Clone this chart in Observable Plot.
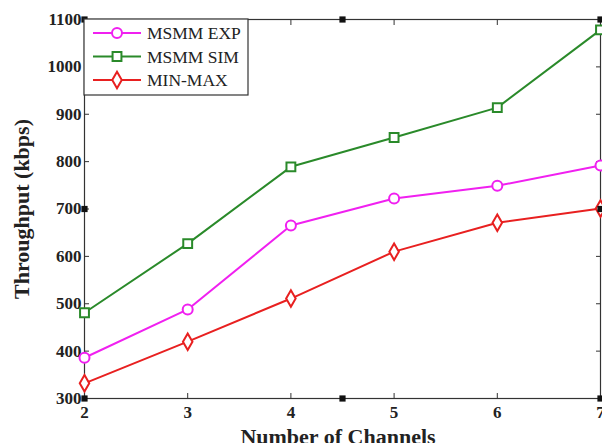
<!DOCTYPE html>
<html><head><meta charset="utf-8">
<script src="https://cdn.jsdelivr.net/npm/d3@7"></script>
<script src="https://cdn.jsdelivr.net/npm/@observablehq/plot@0.6"></script>
<style>body{margin:0;background:#fff}#c{position:relative;width:602px;height:443px}</style>
</head><body><div id="c"></div>
<script>
const channels = [2, 3, 4, 5, 6, 7];
const msmmExp = [386, 488, 665, 722, 749, 792];
const msmmSim = [481, 627, 789, 851, 914, 1078];
const minMax = [332, 420, 511, 610, 671, 701];
const seriesNames = ["MSMM EXP", "MSMM SIM", "MIN-MAX"];
const seriesColors = ["#f020f0", "#2a8a2a", "#e82020"];
const seriesSymbols = ["circle", "square", "diamond"];
const yTicks = [300, 400, 500, 600, 700, 800, 900, 1000, 1100];
const xTicks = [2, 3, 4, 5, 6, 7];
const handleX = [2, 4.5, 7];
const handleY = [300, 700, 1100];

const allSeries = [msmmExp, msmmSim, minMax];
const data = allSeries.flatMap((vals, i) => vals.map((v, j) => ({x: channels[j], y: v, s: seriesNames[i]})));
const handles = [];
for (const hx of handleX) for (const hy of handleY) {
  if (hx === 4.5 && hy === 700) continue;
  handles.push({x: hx, y: hy});
}

const font = "'Liberation Serif', 'Times New Roman', serif";
const plot = Plot.plot({
  width: 602, height: 443,
  marginLeft: 84, marginTop: 19, marginRight: 2, marginBottom: 45,
  style: {fontFamily: font, fontSize: "17px", fontWeight: "bold", color: "#222", background: "#fff"},
  x: {domain: [2, 7]},
  y: {domain: [300, 1100]},
  color: {domain: seriesNames, range: seriesColors},
  symbol: {domain: seriesNames, range: seriesSymbols},
  marks: [
    Plot.frame({stroke: "#333", strokeWidth: 1.2}),
    Plot.axisY(yTicks, {anchor: "left", tickSize: 0, tickPadding: 3, label: null, fontSize: 17, tickFormat: d3.format("d")}),
    Plot.axisY(yTicks, {anchor: "left", tickSize: -5, text: null, label: null, stroke: "#333"}),
    Plot.axisY(yTicks, {anchor: "right", tickSize: -5, text: null, label: null, stroke: "#333"}),
    Plot.axisX(xTicks, {anchor: "bottom", tickSize: 0, tickPadding: 7, label: null, fontSize: 17}),
    Plot.axisX(xTicks, {anchor: "bottom", tickSize: -5, text: null, label: null, stroke: "#333"}),
    Plot.axisX(xTicks, {anchor: "top", tickSize: -5, text: null, label: null, stroke: "#333"}),
    Plot.line(data, {x: "x", y: "y", z: "s", stroke: "s", strokeWidth: 2}),
    Plot.dot(data, {x: "x", y: "y", stroke: "s", symbol: "s", fill: "white", r: 5, strokeWidth: 2}),
    Plot.dot(handles, {x: "x", y: "y", symbol: "square", fill: "#111", r: 3.5})
  ]
});
const svg = d3.select(plot);
// axis titles
svg.append("text").attr("x", 338).attr("y", 444).attr("text-anchor", "middle")
  .attr("font-family", font).attr("font-weight", "bold").attr("font-size", 22).attr("fill", "#222")
  .text("Number of Channels");
svg.append("text").attr("transform", "translate(29,209) rotate(-90)").attr("text-anchor", "middle")
  .attr("font-family", font).attr("font-weight", "bold").attr("font-size", 22).attr("fill", "#222")
  .text("Throughput (kbps)");
// legend
const lg = svg.append("g").attr("text-anchor", "start").attr("font-weight", "normal");
lg.append("rect").attr("x", 84).attr("y", 19).attr("width", 164).attr("height", 76)
  .attr("fill", "white").attr("stroke", "#333").attr("stroke-width", 1.2);
const sym = {circle: d3.symbolCircle, square: d3.symbolSquare, diamond: d3.symbolDiamond};
seriesNames.forEach((n, i) => {
  const yy = 33 + i * 23.5;
  lg.append("line").attr("x1", 93).attr("x2", 141).attr("y1", yy).attr("y2", yy)
    .attr("stroke", seriesColors[i]).attr("stroke-width", 2);
  lg.append("path").attr("d", d3.symbol(sym[seriesSymbols[i]], Math.PI * 25)())
    .attr("transform", `translate(117,${yy})`).attr("fill", "white")
    .attr("stroke", seriesColors[i]).attr("stroke-width", 2);
  lg.append("text").attr("x", 147).attr("y", yy + 6).attr("font-family", font)
    .attr("font-size", 17.5).attr("fill", "#222").attr("text-anchor", "start").text(n);
});
document.getElementById("c").appendChild(plot);
</script></body></html>
